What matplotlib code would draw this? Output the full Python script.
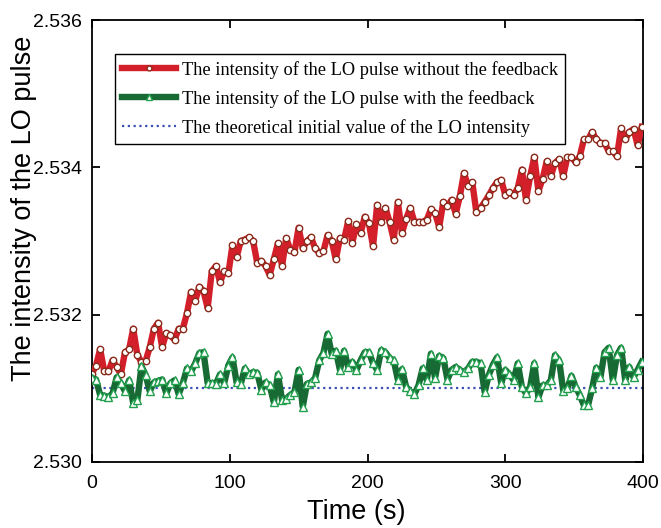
import numpy as np
import matplotlib
matplotlib.use("Agg")
import matplotlib.pyplot as plt

# time axis: one reading every 3 s
time_s = np.arange(0, 400, 3)

lo_no_feedback = [
    2.53120, 2.53131, 2.53153, 2.53123, 2.53123, 2.53138, 2.53129, 2.53119, 2.53149, 2.53153,
    2.53181, 2.53145, 2.53136, 2.53137, 2.53156, 2.53181, 2.53189, 2.53156, 2.53175, 2.53172,
    2.53166, 2.53181, 2.53181, 2.53202, 2.53231, 2.53219, 2.53238, 2.53232, 2.53209, 2.53259,
    2.53266, 2.53244, 2.53259, 2.53256, 2.53294, 2.53278, 2.53300, 2.53302, 2.53305, 2.53300,
    2.53270, 2.53273, 2.53266, 2.53254, 2.53275, 2.53297, 2.53266, 2.53304, 2.53288, 2.53285,
    2.53318, 2.53290, 2.53300, 2.53305, 2.53290, 2.53284, 2.53286, 2.53308, 2.53300, 2.53275,
    2.53304, 2.53302, 2.53327, 2.53298, 2.53323, 2.53311, 2.53333, 2.53324, 2.53293, 2.53349,
    2.53326, 2.53345, 2.53326, 2.53302, 2.53353, 2.53311, 2.53330, 2.53345, 2.53326, 2.53326,
    2.53326, 2.53329, 2.53343, 2.53338, 2.53319, 2.53353, 2.53347, 2.53356, 2.53337, 2.53361,
    2.53392, 2.53375, 2.53380, 2.53339, 2.53345, 2.53353, 2.53362, 2.53372, 2.53380, 2.53383,
    2.53362, 2.53366, 2.53362, 2.53372, 2.53397, 2.53356, 2.53388, 2.53414, 2.53368, 2.53384,
    2.53408, 2.53388, 2.53406, 2.53411, 2.53388, 2.53414, 2.53414, 2.53407, 2.53415, 2.53438,
    2.53438, 2.53448, 2.53438, 2.53433, 2.53433, 2.53422, 2.53422, 2.53415, 2.53453, 2.53438,
    2.53448, 2.53452, 2.53430, 2.53455,
]

lo_feedback = [
    2.53114, 2.53112, 2.53091, 2.53090, 2.53088, 2.53093, 2.53115, 2.53107, 2.53096, 2.53111,
    2.53080, 2.53084, 2.53130, 2.53118, 2.53096, 2.53108, 2.53110, 2.53112, 2.53093, 2.53107,
    2.53111, 2.53092, 2.53107, 2.53127, 2.53123, 2.53134, 2.53148, 2.53149, 2.53107, 2.53107,
    2.53106, 2.53119, 2.53107, 2.53131, 2.53142, 2.53108, 2.53106, 2.53127, 2.53119, 2.53122,
    2.53121, 2.53098, 2.53108, 2.53104, 2.53081, 2.53119, 2.53084, 2.53086, 2.53091, 2.53095,
    2.53125, 2.53075, 2.53106, 2.53108, 2.53114, 2.53138, 2.53148, 2.53174, 2.53147, 2.53151,
    2.53125, 2.53151, 2.53129, 2.53136, 2.53125, 2.53138, 2.53149, 2.53149, 2.53134, 2.53125,
    2.53152, 2.53149, 2.53141, 2.53138, 2.53112, 2.53126, 2.53102, 2.53096, 2.53092, 2.53104,
    2.53127, 2.53111, 2.53147, 2.53114, 2.53144, 2.53141, 2.53112, 2.53125, 2.53129, 2.53125,
    2.53122, 2.53127, 2.53136, 2.53136, 2.53134, 2.53095, 2.53118, 2.53132, 2.53142, 2.53107,
    2.53125, 2.53119, 2.53111, 2.53134, 2.53102, 2.53093, 2.53102, 2.53134, 2.53088, 2.53104,
    2.53104, 2.53111, 2.53145, 2.53138, 2.53097, 2.53100, 2.53117, 2.53102, 2.53091, 2.53077,
    2.53077, 2.53100, 2.53128, 2.53115, 2.53149, 2.53155, 2.53111, 2.53145, 2.53155, 2.53111,
    2.53129, 2.53115, 2.53125, 2.53136,
]

initial_value = 2.531

labels = [
    "The intensity of the LO pulse without the feedback",
    "The intensity of the LO pulse with the feedback",
    "The theoretical initial value of the LO intensity",
]

plt.rcParams['font.family'] = ['Liberation Sans', 'DejaVu Sans']

fig = plt.figure(figsize=(6.61, 5.28), dpi=100)
ax = fig.add_axes([0.139, 0.125, 0.834, 0.837])

ax.plot(time_s, lo_no_feedback, color='#d21f2a', lw=4.6, marker='o', ms=4.6,
        mfc='white', mec='#8a2b1c', mew=1.0, label=labels[0], zorder=3)
ax.plot(time_s, lo_feedback, color='#176a33', lw=4.6, marker='^', ms=5.2,
        mfc='white', mec='#22a04e', mew=1.0, label=labels[1], zorder=3)
ax.axhline(initial_value, color='#3b4fb5', lw=1.6, ls=(0, (1, 1.6)),
           label=labels[2], zorder=2)

ax.set_xlim(0, 400)
ax.set_ylim(2.530, 2.536)
ax.set_xticks([0, 100, 200, 300, 400])
ax.set_yticks([2.530, 2.532, 2.534, 2.536])
ax.set_yticklabels(['2.530', '2.532', '2.534', '2.536'])
ax.tick_params(direction='in', length=6, width=1.3, labelsize=14,
               top=True, right=True)
ax.tick_params(axis='x', pad=9)
ax.tick_params(axis='y', pad=7)
for s in ax.spines.values():
    s.set_linewidth(1.3)

ax.set_xlabel('Time (s)', fontsize=19.5)
ax.set_ylabel('The intensity of the LO pulse', fontsize=19.5)
ax.xaxis.set_label_coords(0.48, -0.084)
ax.yaxis.set_label_coords(-0.1, 0.575)

leg = ax.legend(loc='upper left', bbox_to_anchor=(0.042, 0.924),
                prop={'family': 'Liberation Serif', 'size': 13.2},
                fancybox=False, edgecolor='black', framealpha=1,
                handlelength=2.9, handletextpad=0.33, borderpad=0.4,
                labelspacing=0.6, markerscale=0.75, borderaxespad=0)
leg.get_frame().set_linewidth(1.0)

fig.savefig('out.png', dpi=100)
